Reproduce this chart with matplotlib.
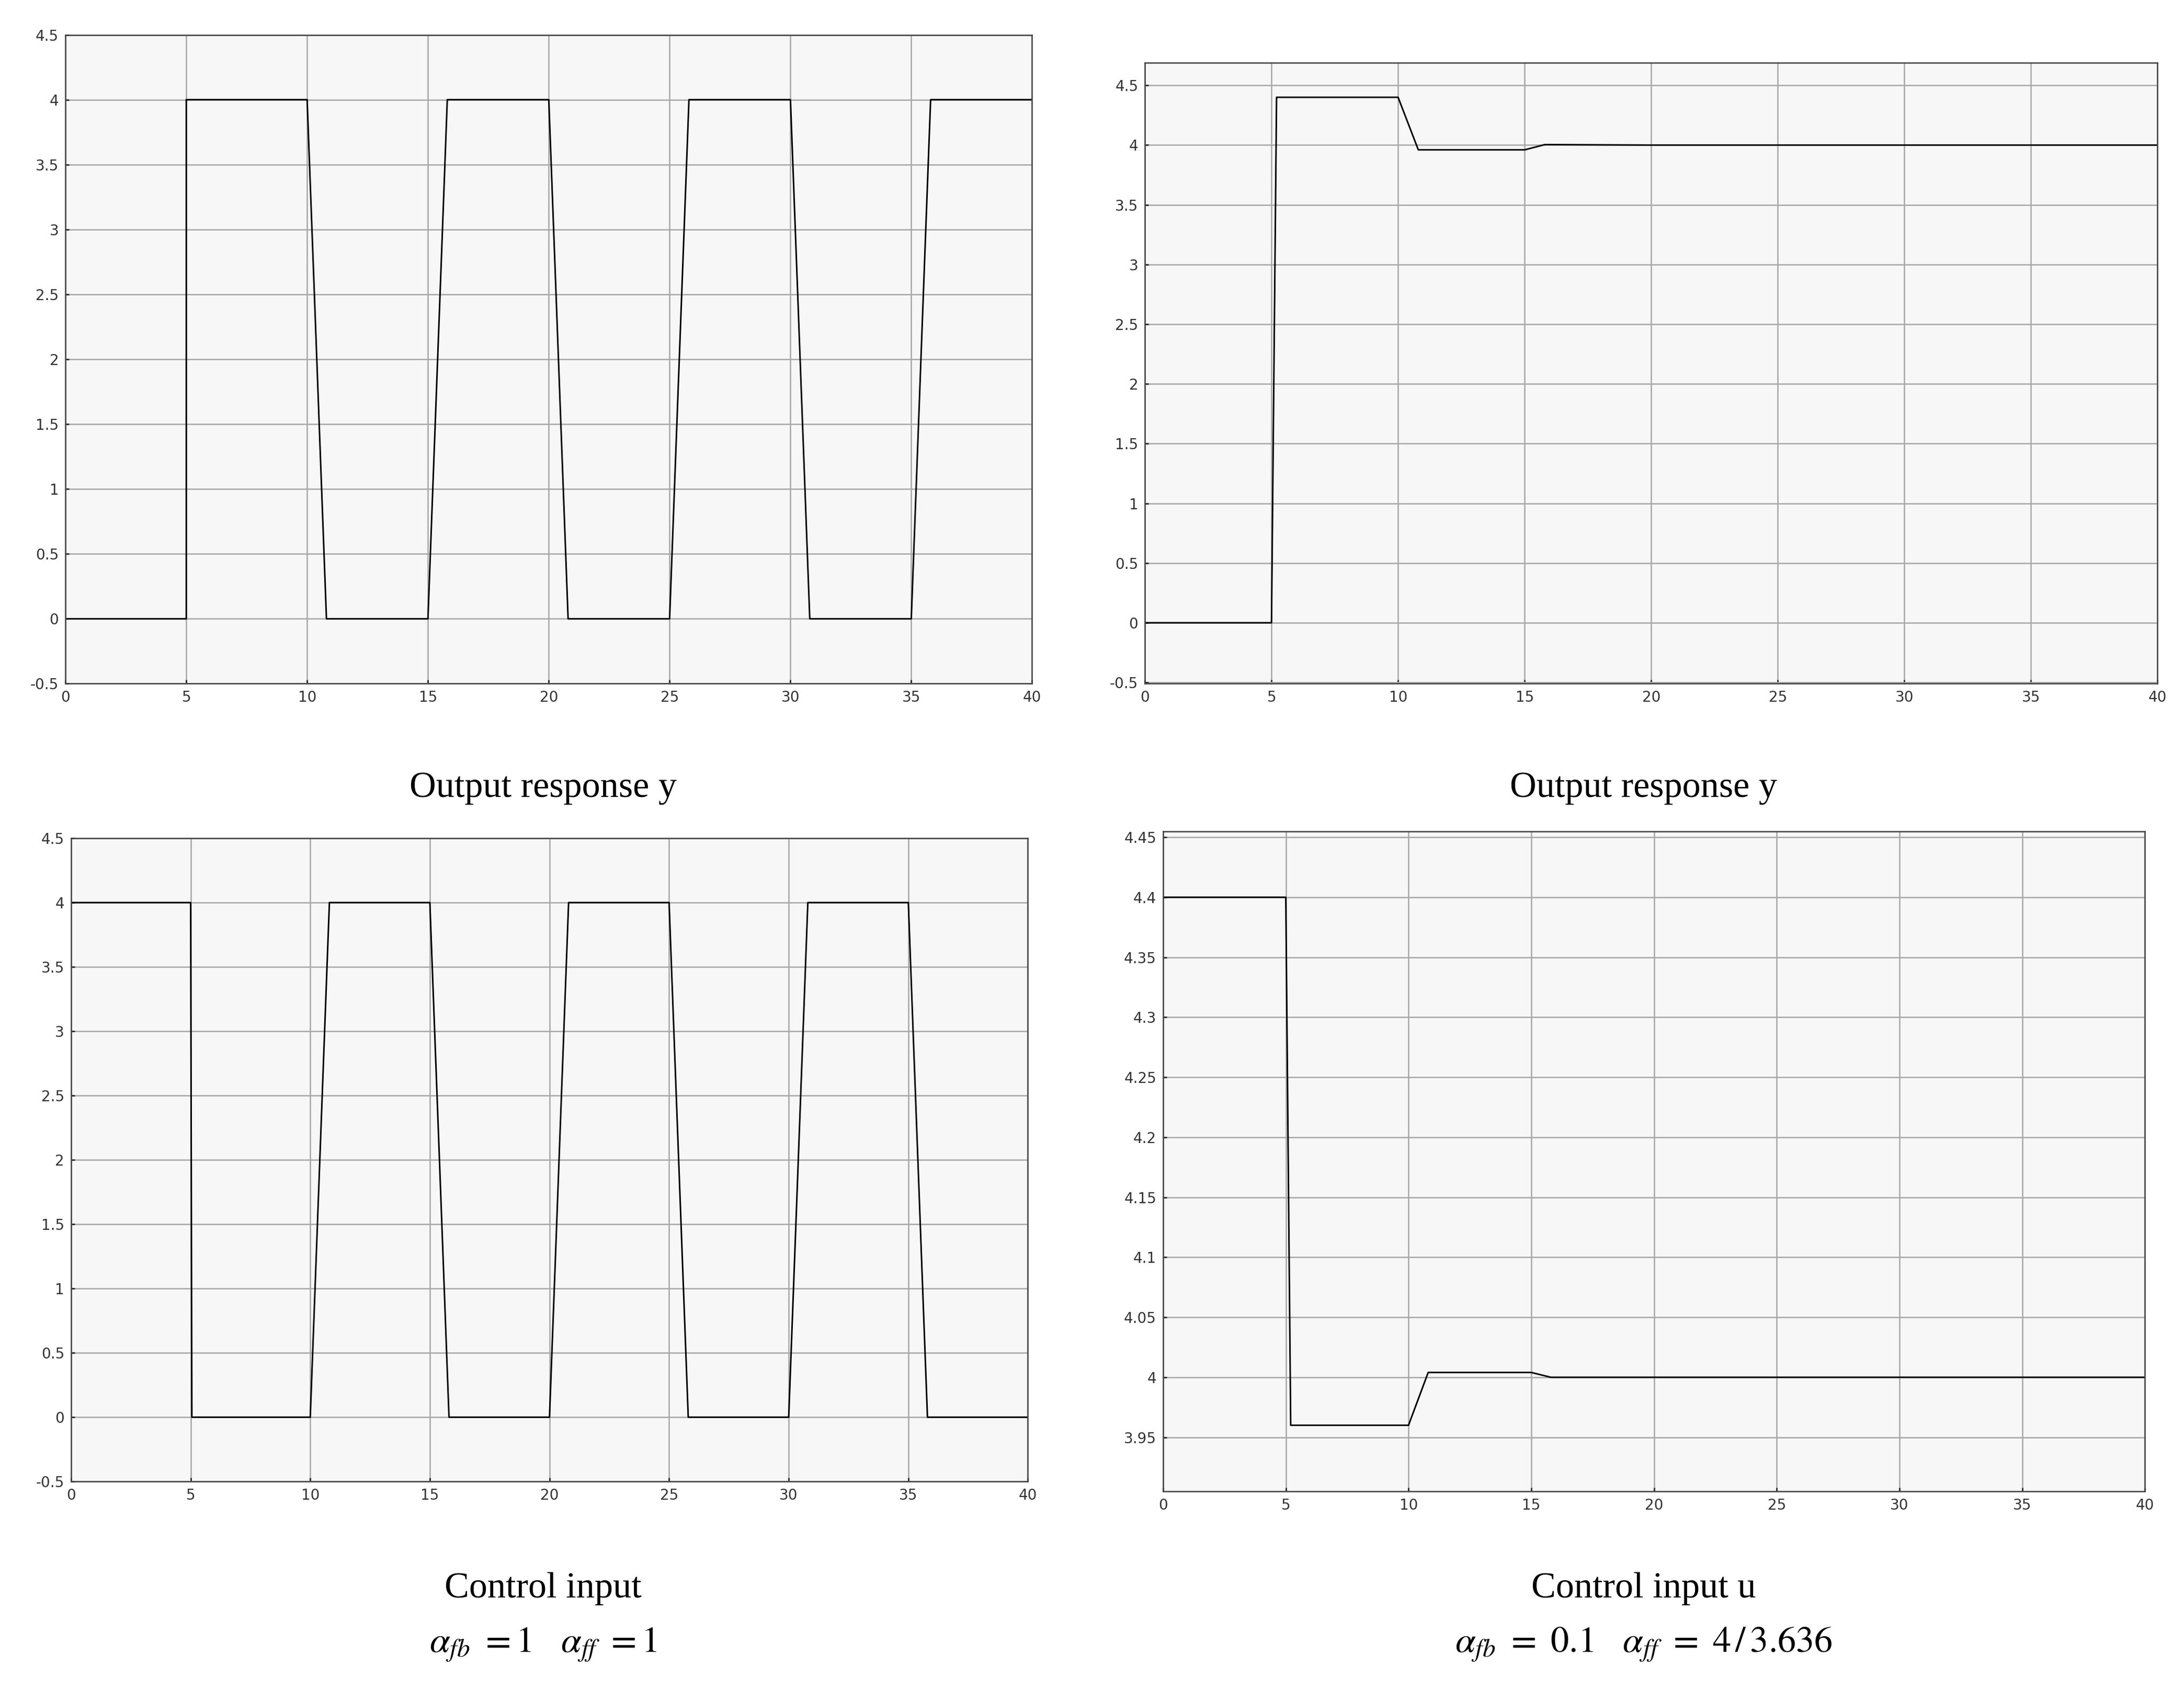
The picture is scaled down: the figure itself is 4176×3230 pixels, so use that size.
import numpy as np
import matplotlib.pyplot as plt

# Datos
t_y1 = [0, 5, 5, 10, 10.8, 15, 15.8, 20, 20.8, 25, 25.8, 30, 30.8, 35, 35.8, 40]
y1 = [0, 0, 4, 4, 0, 0, 4, 4, 0, 0, 4, 4, 0, 0, 4, 4]

t_u1 = [0, 5, 5.05, 10, 10.8, 15, 15.8, 20, 20.8, 25, 25.8, 30, 30.8, 35, 35.8, 40]
u1 = [4, 4, 0, 0, 4, 4, 0, 0, 4, 4, 0, 0, 4, 4, 0, 0]

t_y2 = [0, 5, 5.2, 10, 10.8, 15, 15.8, 20, 40]
y2 = [0, 0, 4.4, 4.4, 3.96, 3.96, 4.004, 4.0, 4.0]

t_u2 = [0, 5, 5.2, 10, 10.8, 15, 15.8, 20, 40]
u2 = [4.4, 4.4, 3.96, 3.96, 4.004, 4.004, 4.0, 4.0, 4.0]

W, H = 1568, 1213
fig = plt.figure(figsize=(4176 / 266.3, 3230 / 266.3), dpi=266.3)


def caja(x0, y0, x1, y1_):
    return [x0 / W, 1 - y1_ / H, (x1 - x0) / W, (y1_ - y0) / H]


def panel(rect, t, v, ylim, yticks):
    ax = fig.add_axes(rect)
    ax.set_facecolor('#f7f7f7')
    ax.plot(t, v, color='k', linewidth=0.8)
    ax.set_xlim(0, 40)
    ax.set_xticks(np.arange(0, 41, 5))
    ax.set_ylim(*ylim)
    ax.set_yticks(yticks)
    ax.set_yticklabels([('%g' % y) for y in yticks])
    ax.grid(True, color='#a8a8a8', linewidth=0.7)
    ax.tick_params(labelsize=7.5, direction='in', length=2, colors='#333333')
    for s in ax.spines.values():
        s.set_linewidth(0.7)
        s.set_color('#444444')
    return ax


panel(caja(47, 25, 741, 491), t_y1, y1, (-0.5, 4.5), np.arange(-0.5, 4.51, 0.5))
panel(caja(822, 45, 1549, 491), t_y2, y2, (-0.51, 4.69), np.arange(-0.5, 4.51, 0.5))
panel(caja(51, 602, 738, 1064), t_u1, u1, (-0.5, 4.5), np.arange(-0.5, 4.51, 0.5))
panel(caja(835, 597, 1540, 1071), t_u2, u2, (3.905, 4.455),
      np.round(np.arange(3.95, 4.451, 0.05), 2))

serif = 'Liberation Serif'
fs = 19
fig.text(390 / W, 1 - 566 / H, 'Output response y', ha='center', va='center',
         fontsize=fs, family=serif)
fig.text(1180 / W, 1 - 566 / H, 'Output response y', ha='center', va='center',
         fontsize=fs, family=serif)
fig.text(390 / W, 1 - 1141 / H, 'Control input', ha='center', va='center',
         fontsize=fs, family=serif)
fig.text(1180 / W, 1 - 1141 / H, 'Control input u', ha='center', va='center',
         fontsize=fs, family=serif)
plt.rcParams['mathtext.fontset'] = 'stix'
fig.text(390 / W, 1 - 1181 / H, r'$\alpha_{fb}\ =1\quad\alpha_{ff}\ =1$', ha='center',
         va='center', fontsize=fs)
fig.text(1180 / W, 1 - 1181 / H, r'$\alpha_{fb}\ =\ 0.1\quad\alpha_{ff}\ =\ 4\,/\,3.636$',
         ha='center', va='center', fontsize=fs)

fig.savefig('out.png', facecolor='white')
